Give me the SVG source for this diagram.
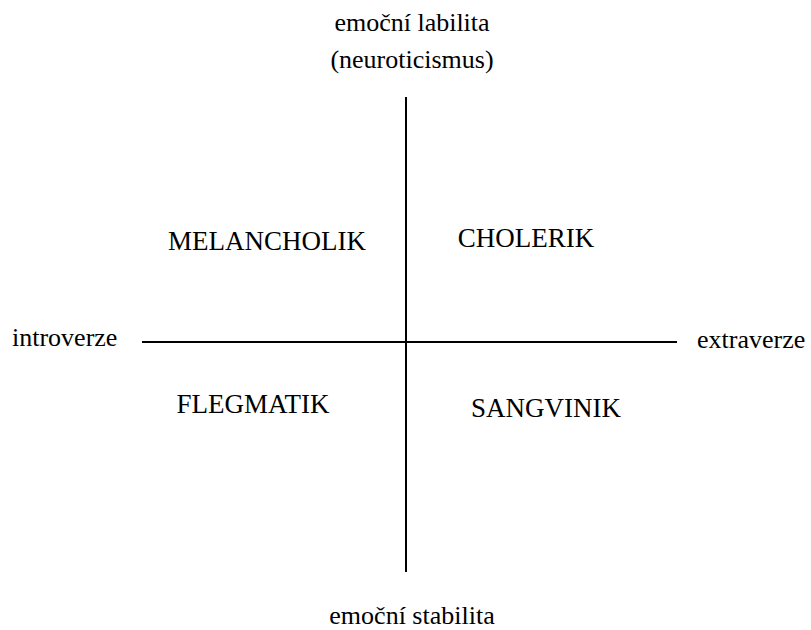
<svg xmlns="http://www.w3.org/2000/svg" width="811" height="630" viewBox="0 0 811 630">
<style>
.t{font-size:26px}
.c{font-size:27px;text-anchor:middle}
.ax{stroke:#000;stroke-width:2;fill:none}
</style>
<rect width="811" height="630" fill="#fff"/>
<g id="connectors">
<line class="ax" x1="406" y1="97" x2="406" y2="572"/>
<line class="ax" x1="142" y1="342" x2="677" y2="342"/>
</g>
<g font-family="Times New Roman, Liberation Serif, serif" fill="#000">
<g id="top-label">
<text class="t" x="412" y="31" text-anchor="middle">emoční labilita</text>
<text class="t" x="412" y="68" text-anchor="middle">(neuroticismus)</text>
</g>
<g id="bottom-label"><text class="t" x="412" y="624" text-anchor="middle">emoční stabilita</text></g>
<g id="left-label"><text class="t" x="12" y="346">introverze</text></g>
<g id="right-label"><text class="t" x="697" y="348">extraverze</text></g>
<g id="melancholik"><text class="c" x="267" y="250">MELANCHOLIK</text></g>
<g id="cholerik"><text class="c" x="526" y="247">CHOLERIK</text></g>
<g id="flegmatik"><text class="c" x="253" y="413">FLEGMATIK</text></g>
<g id="sangvinik"><text class="c" x="546" y="417">SANGVINIK</text></g>
</g>
</svg>
